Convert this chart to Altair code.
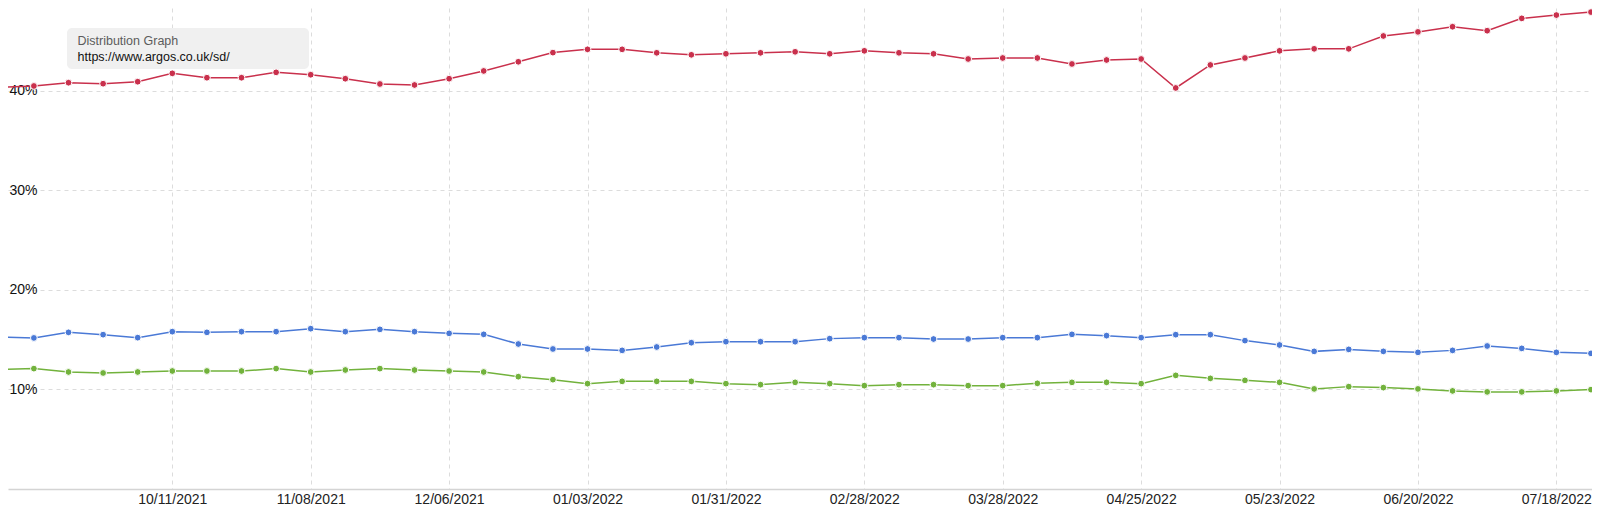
import altair as alt
import pandas as pd

FONT = "Liberation Sans, Arial, Helvetica, sans-serif"

# weekly observation dates
DATES = [
    "2021-09-06", "2021-09-13", "2021-09-20", "2021-09-27",
    "2021-10-04", "2021-10-11", "2021-10-18", "2021-10-25",
    "2021-11-01", "2021-11-08", "2021-11-15", "2021-11-22", "2021-11-29",
    "2021-12-06", "2021-12-13", "2021-12-20", "2021-12-27",
    "2022-01-03", "2022-01-10", "2022-01-17", "2022-01-24", "2022-01-31",
    "2022-02-07", "2022-02-14", "2022-02-21", "2022-02-28",
    "2022-03-07", "2022-03-14", "2022-03-21", "2022-03-28",
    "2022-04-04", "2022-04-11", "2022-04-18", "2022-04-25",
    "2022-05-02", "2022-05-09", "2022-05-16", "2022-05-23", "2022-05-30",
    "2022-06-06", "2022-06-13", "2022-06-20", "2022-06-27",
    "2022-07-04", "2022-07-11", "2022-07-18", "2022-07-25",
]

# series values (percent)
RED = [40.34, 40.47, 40.80, 40.70, 40.90, 41.74, 41.30, 41.30, 41.84, 41.60,
       41.20, 40.67, 40.57, 41.20, 41.98, 42.90, 43.82, 44.15, 44.15, 43.80,
       43.60, 43.70, 43.80, 43.90, 43.70, 44.00, 43.80, 43.70, 43.18, 43.28,
       43.28, 42.68, 43.08, 43.18, 40.27, 42.58, 43.28, 44.00, 44.20, 44.20,
       45.49, 45.90, 46.42, 46.02, 47.26, 47.59, 47.89]
BLUE = [15.27, 15.17, 15.73, 15.50, 15.20, 15.80, 15.73, 15.80, 15.80, 16.10,
        15.80, 16.03, 15.80, 15.63, 15.53, 14.56, 14.06, 14.06, 13.92, 14.26,
        14.69, 14.79, 14.79, 14.79, 15.10, 15.20, 15.20, 15.06, 15.06, 15.20,
        15.20, 15.53, 15.40, 15.20, 15.50, 15.50, 14.90, 14.46, 13.82, 14.02,
        13.82, 13.72, 13.92, 14.36, 14.12, 13.72, 13.62]
GREEN = [11.99, 12.09, 11.75, 11.65, 11.75, 11.85, 11.85, 11.85, 12.09, 11.75,
         11.95, 12.09, 11.95, 11.85, 11.75, 11.28, 10.98, 10.58, 10.81, 10.81,
         10.81, 10.58, 10.48, 10.71, 10.58, 10.38, 10.48, 10.48, 10.38, 10.38,
         10.61, 10.71, 10.71, 10.58, 11.41, 11.11, 10.91, 10.71, 10.05, 10.28,
         10.18, 10.05, 9.85, 9.75, 9.75, 9.85, 9.98]

SERIES_NAMES = ["Series 1", "Series 2", "Series 3"]
SERIES_COLORS = ["#c9304c", "#4a79d6", "#72b23c"]

X_TICKS = ["2021-10-11", "2021-11-08", "2021-12-06", "2022-01-03",
           "2022-01-31", "2022-02-28", "2022-03-28", "2022-04-25",
           "2022-05-23", "2022-06-20", "2022-07-18"]
Y_TICKS = [10, 20, 30, 40]

TOOLTIP_TITLE = "Distribution Graph"
TOOLTIP_URL = "https://www.argos.co.uk/sd/"

# ---- build table ----
rows = []
for name, vals in zip(SERIES_NAMES, [RED, BLUE, GREEN]):
    for d, v in zip(DATES, vals):
        rows.append({"date": d, "series": name, "value": v})
df = pd.DataFrame(rows)


def dt(s, h=0, m=0):
    y, mo, d = (int(p) for p in s.split("-"))
    return alt.DateTime(year=y, month=mo, date=d, hours=h, minutes=m, utc=True)


x_enc = alt.X(
    "date:T",
    scale=alt.Scale(type="utc", domain=[dt("2021-09-07", 18, 15), dt("2022-07-25", 5, 0)]),
    axis=alt.Axis(
        values=[dt(s) for s in X_TICKS],
        labelExpr="utcFormat(datum.value, '%m/%d/%Y')",
        title=None,
        ticks=False,
        labelPadding=3,
        labelFontSize=14,
        labelColor="#222222",
        labelFont=FONT,
        domain=True,
        domainColor="#d4d4d4",
        domainWidth=1.5,
        grid=True,
        gridColor="#dcdcdc",
        gridDash=[4, 4],
        gridWidth=1,
        minExtent=0,
        labelOverlap=False,
    ),
)
y_enc = alt.Y(
    "value:Q",
    scale=alt.Scale(domain=[0, 48.3], nice=False, zero=True),
    axis=alt.Axis(
        values=Y_TICKS,
        labelExpr="datum.value + '%'",
        title=None,
        ticks=False,
        tickSize=0,
        domain=False,
        labelAlign="left",
        labelBaseline="middle",
        labelPadding=-1,
        labelFontSize=14,
        labelColor="#111111",
        labelFont=FONT,
        grid=True,
        gridColor="#dcdcdc",
        gridDash=[4, 4],
        gridWidth=1,
        minExtent=0,
        maxExtent=0,
    ),
)
color_enc = alt.Color("series:N", scale=alt.Scale(domain=SERIES_NAMES, range=SERIES_COLORS), legend=None)

base = alt.Chart(df).encode(x=x_enc, y=y_enc, color=color_enc, detail="series:N")
lines = base.mark_line(strokeWidth=1.5, clip=True)
points = base.mark_circle(size=46, opacity=1, stroke="white", strokeWidth=1, clip=True)

box_df = pd.DataFrame({"title": [TOOLTIP_TITLE], "url": [TOOLTIP_URL]})
box = alt.Chart(box_df).mark_rect(fill="#f0f0f0", cornerRadius=5).encode(
    x=alt.value(59), x2=alt.value(301), y=alt.value(20), y2=alt.value(61)
)
t1 = alt.Chart(box_df).mark_text(
    align="left", baseline="middle", fontSize=12.5, color="#5c5c5c", font=FONT
).encode(x=alt.value(69.5), y=alt.value(33), text="title:N")
t2 = alt.Chart(box_df).mark_text(
    align="left", baseline="middle", fontSize=12.5, color="#111111", font=FONT
).encode(x=alt.value(69.5), y=alt.value(49), text="url:N")

chart = (
    alt.layer(lines, points, box, t1, t2)
    .properties(
        width=1584,
        height=481,
        padding={"left": 0, "right": 0, "top": 0, "bottom": 0},
        autosize=alt.AutoSizeParams(type="pad"),
        background="white",
    )
    .configure_view(stroke=None)
)

chart.save("out.html", embed_options={"renderer": "svg", "actions": False})
